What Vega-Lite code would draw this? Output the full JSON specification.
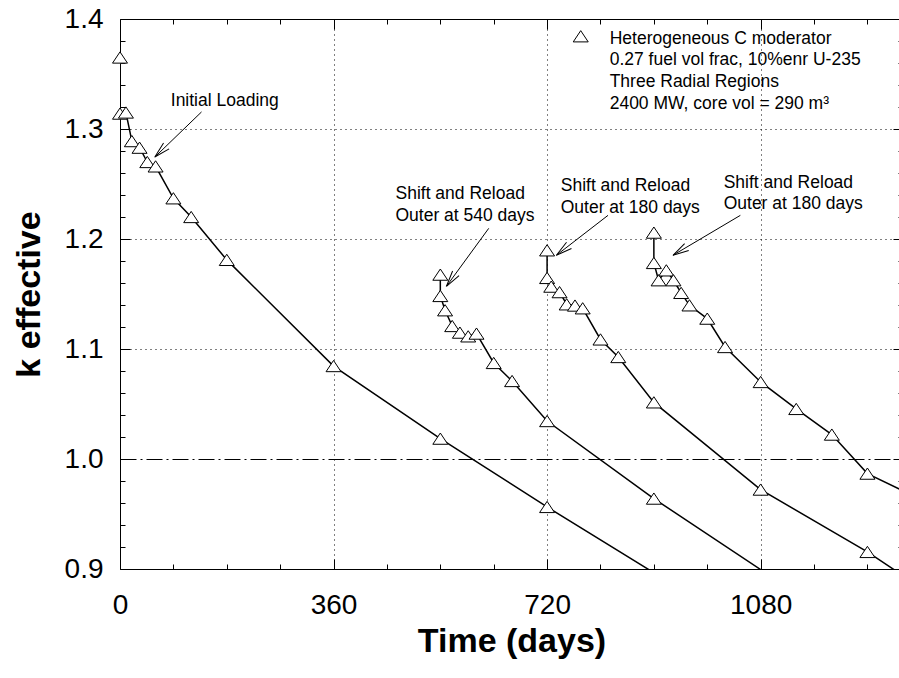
{
  "$schema": "https://vega.github.io/schema/vega-lite/v6.json",
  "width": 783,
  "height": 550,
  "autosize": {"type": "none"},
  "padding": {"left": 120, "top": 19, "right": 0, "bottom": 109},
  "background": "white",
  "config": {"view": {"stroke": null}, "font": "Liberation Sans"},
  "datasets": {
    "curves": [
      {"s": 1, "i": 0, "t": 0, "k": 1.365},
      {"s": 1, "i": 1, "t": 0, "k": 1.314},
      {"s": 1, "i": 2, "t": 10, "k": 1.315},
      {"s": 1, "i": 3, "t": 20, "k": 1.289},
      {"s": 1, "i": 4, "t": 33, "k": 1.283},
      {"s": 1, "i": 5, "t": 46, "k": 1.270},
      {"s": 1, "i": 6, "t": 60, "k": 1.266},
      {"s": 1, "i": 7, "t": 90, "k": 1.237},
      {"s": 1, "i": 8, "t": 120, "k": 1.220},
      {"s": 1, "i": 9, "t": 180, "k": 1.181},
      {"s": 1, "i": 10, "t": 360, "k": 1.0845},
      {"s": 1, "i": 11, "t": 540, "k": 1.0185},
      {"s": 1, "i": 12, "t": 720, "k": 0.9564},
      {"s": 1, "i": 13, "t": 900, "k": 0.8966},
      {"s": 2, "i": 0, "t": 540, "k": 1.1676},
      {"s": 2, "i": 1, "t": 540, "k": 1.1482},
      {"s": 2, "i": 2, "t": 548, "k": 1.1352},
      {"s": 2, "i": 3, "t": 560, "k": 1.1209},
      {"s": 2, "i": 4, "t": 573, "k": 1.1149},
      {"s": 2, "i": 5, "t": 587, "k": 1.1115},
      {"s": 2, "i": 6, "t": 601, "k": 1.114},
      {"s": 2, "i": 7, "t": 630, "k": 1.0873},
      {"s": 2, "i": 8, "t": 661, "k": 1.0709},
      {"s": 2, "i": 9, "t": 720, "k": 1.0345},
      {"s": 2, "i": 10, "t": 900, "k": 0.964},
      {"s": 2, "i": 11, "t": 1080, "k": 0.8995},
      {"s": 3, "i": 0, "t": 720, "k": 1.1897},
      {"s": 3, "i": 1, "t": 720, "k": 1.1646},
      {"s": 3, "i": 2, "t": 727, "k": 1.1567},
      {"s": 3, "i": 3, "t": 741, "k": 1.1517},
      {"s": 3, "i": 4, "t": 753, "k": 1.1406},
      {"s": 3, "i": 5, "t": 767, "k": 1.1395},
      {"s": 3, "i": 6, "t": 780, "k": 1.137},
      {"s": 3, "i": 7, "t": 810, "k": 1.1087},
      {"s": 3, "i": 8, "t": 840, "k": 1.0927},
      {"s": 3, "i": 9, "t": 900, "k": 1.0515},
      {"s": 3, "i": 10, "t": 1080, "k": 0.9722},
      {"s": 3, "i": 11, "t": 1260, "k": 0.9155},
      {"s": 3, "i": 12, "t": 1440, "k": 0.851},
      {"s": 4, "i": 0, "t": 900, "k": 1.2058},
      {"s": 4, "i": 1, "t": 900, "k": 1.1782},
      {"s": 4, "i": 2, "t": 908, "k": 1.1625},
      {"s": 4, "i": 3, "t": 921, "k": 1.1715},
      {"s": 4, "i": 4, "t": 933, "k": 1.1625},
      {"s": 4, "i": 5, "t": 946, "k": 1.151},
      {"s": 4, "i": 6, "t": 960, "k": 1.1397},
      {"s": 4, "i": 7, "t": 990, "k": 1.1276},
      {"s": 4, "i": 8, "t": 1020, "k": 1.1018},
      {"s": 4, "i": 9, "t": 1080, "k": 1.07},
      {"s": 4, "i": 10, "t": 1140, "k": 1.0455},
      {"s": 4, "i": 11, "t": 1200, "k": 1.0222},
      {"s": 4, "i": 12, "t": 1260, "k": 0.9867},
      {"s": 4, "i": 13, "t": 1440, "k": 0.94}
    ],
    "arrows": [
      {"name": "a1", "t": 137.4, "k": 1.3155, "t2": 58.7, "k2": 1.2745},
      {"name": "a2", "t": 621.6, "k": 1.2097, "t2": 550.3, "k2": 1.157},
      {"name": "a3", "t": 822.7, "k": 1.2215, "t2": 735.7, "k2": 1.1852},
      {"name": "a4", "t": 1045.8, "k": 1.2215, "t2": 932.2, "k2": 1.1852}
    ],
    "notes": [
      {"t": 85.6, "k": 1.3205, "text": "Initial Loading"},
      {"t": 464.4, "k": 1.2362, "text": "Shift and Reload\nOuter at 540 days"},
      {"t": 743, "k": 1.2438, "text": "Shift and Reload\nOuter at 180 days"},
      {"t": 1017.7, "k": 1.2468, "text": "Shift and Reload\nOuter at 180 days"},
      {"t": 825.5, "k": 1.3777, "text": "Heterogeneous C moderator\n0.27 fuel vol frac, 10%enr U-235\nThree Radial Regions\n2400 MW, core vol = 290 m³"}
    ],
    "legendSymbol": [
      {"t": 776.7, "k": 1.3843}
    ]
  },
  "layer": [
    {
      "data": {"name": "curves"},
      "mark": {"type": "line", "color": "black", "strokeWidth": 1.5, "clip": true},
      "encoding": {
        "x": {
          "field": "t", "type": "quantitative",
          "scale": {"domain": [0, 1320], "nice": false, "zero": false},
          "axis": {
            "orient": "bottom",
            "values": [0, 90, 180, 270, 360, 450, 540, 630, 720, 810, 900, 990, 1080, 1170, 1260],
            "labelExpr": "datum.value % 360 === 0 ? format(datum.value, 'd') : ''",
            "title": "Time (days)",
            "domain": true, "domainColor": "black", "domainWidth": 1,
            "ticks": true, "tickColor": "black", "tickWidth": 1,
            "tickSize": {"condition": {"test": "datum.value % 360 === 0", "value": -10}, "value": -5},
            "grid": true, "gridColor": "black", "gridWidth": 1, "gridDash": [1, 4],
            "gridOpacity": {"condition": {"test": "datum.value % 360 === 0 && datum.value > 0", "value": 1}, "value": 0},
            "labelFont": "Liberation Sans", "labelFontSize": 28, "labelColor": "black",
            "labelPadding": 32, "labelFlush": false, "labelOverlap": false, "labelBound": false,
            "titleFont": "Liberation Sans", "titleFontSize": 34, "titleFontWeight": "bold", "titleColor": "black",
            "titlePadding": 0
          }
        },
        "y": {
          "field": "k", "type": "quantitative",
          "scale": {"domain": [0.9, 1.4], "nice": false, "zero": false},
          "axis": {
            "orient": "left",
            "values": [0.9, 0.92, 0.94, 0.96, 0.98, 1.0, 1.02, 1.04, 1.06, 1.08, 1.1, 1.12, 1.14, 1.16, 1.18, 1.2, 1.22, 1.24, 1.26, 1.28, 1.3, 1.32, 1.34, 1.36, 1.38, 1.4],
            "labelExpr": "abs(datum.value * 10 - round(datum.value * 10)) < 0.001 ? format(datum.value, '.1f') : ''",
            "title": "k effective",
            "domain": true, "domainColor": "black", "domainWidth": 1,
            "ticks": true, "tickColor": "black", "tickWidth": 1,
            "tickSize": {"condition": {"test": "abs(datum.value * 10 - round(datum.value * 10)) < 0.001", "value": -10}, "value": -5},
            "grid": true, "gridColor": "black", "gridWidth": 1,
            "gridDash": {"condition": {"test": "abs(datum.value - 1) < 0.001", "value": [16, 4, 2, 4]}, "value": [1, 4]},
            "gridOpacity": {"condition": {"test": "abs(datum.value * 10 - round(datum.value * 10)) < 0.001 && datum.value > 0.95 && datum.value < 1.35", "value": 1}, "value": 0},
            "labelFont": "Liberation Sans", "labelFontSize": 28, "labelColor": "black",
            "labelPadding": 27, "labelFlush": false, "labelOverlap": false, "labelBound": false,
            "titleFont": "Liberation Sans", "titleFontSize": 34, "titleFontWeight": "bold", "titleColor": "black",
            "titlePadding": 18
          }
        },
        "detail": {"field": "s", "type": "nominal"},
        "order": {"field": "i", "type": "quantitative"}
      }
    },
    {
      "data": {"name": "curves"},
      "transform": [{"filter": "datum.k >= 0.9 && datum.t <= 1320"}],
      "mark": {"type": "point", "shape": "M0,-0.75L1,0.75L-1,0.75Z", "size": 225, "filled": true, "fill": "white", "stroke": "black", "strokeWidth": 1, "opacity": 1, "fillOpacity": 1, "strokeOpacity": 1},
      "encoding": {
        "x": {
          "field": "t", "type": "quantitative",
          "axis": {
            "orient": "top",
            "values": [0, 90, 180, 270, 360, 450, 540, 630, 720, 810, 900, 990, 1080, 1170, 1260],
            "labels": false, "title": null, "grid": false,
            "domain": true, "domainColor": "black", "domainWidth": 1,
            "ticks": true, "tickColor": "black", "tickWidth": 1,
            "tickSize": {"condition": {"test": "datum.value % 360 === 0", "value": -10}, "value": -5}
          }
        },
        "y": {
          "field": "k", "type": "quantitative",
          "axis": {
            "orient": "right",
            "values": [0.9, 0.92, 0.94, 0.96, 0.98, 1.0, 1.02, 1.04, 1.06, 1.08, 1.1, 1.12, 1.14, 1.16, 1.18, 1.2, 1.22, 1.24, 1.26, 1.28, 1.3, 1.32, 1.34, 1.36, 1.38, 1.4],
            "labels": false, "title": null, "grid": false,
            "domain": true, "domainColor": "black", "domainWidth": 1,
            "ticks": true, "tickColor": "black", "tickWidth": 1,
            "tickSize": {"condition": {"test": "abs(datum.value * 10 - round(datum.value * 10)) < 0.001", "value": -10}, "value": -5}
          }
        }
      }
    },
    {
      "data": {"name": "arrows"},
      "mark": {"type": "rule", "color": "black", "strokeWidth": 1},
      "encoding": {
        "x": {"field": "t", "type": "quantitative", "axis": null},
        "y": {"field": "k", "type": "quantitative", "axis": null},
        "x2": {"field": "t2"},
        "y2": {"field": "k2"}
      }
    },
    {
      "data": {"name": "arrows"},
      "transform": [{"filter": "datum.name === 'a1'"}],
      "mark": {"type": "point", "shape": "M-1,-0.25L0,0L-1,0.25", "size": 1024, "filled": false, "stroke": "black", "strokeWidth": 1, "opacity": 1, "angle": 136},
      "encoding": {
        "x": {"field": "t2", "type": "quantitative", "axis": null},
        "y": {"field": "k2", "type": "quantitative", "axis": null}
      }
    },
    {
      "data": {"name": "arrows"},
      "transform": [{"filter": "datum.name === 'a2'"}],
      "mark": {"type": "point", "shape": "M-1,-0.25L0,0L-1,0.25", "size": 1024, "filled": false, "stroke": "black", "strokeWidth": 1, "opacity": 1, "angle": 126},
      "encoding": {
        "x": {"field": "t2", "type": "quantitative", "axis": null},
        "y": {"field": "k2", "type": "quantitative", "axis": null}
      }
    },
    {
      "data": {"name": "arrows"},
      "transform": [{"filter": "datum.name === 'a3'"}],
      "mark": {"type": "point", "shape": "M-1,-0.25L0,0L-1,0.25", "size": 1024, "filled": false, "stroke": "black", "strokeWidth": 1, "opacity": 1, "angle": 142},
      "encoding": {
        "x": {"field": "t2", "type": "quantitative", "axis": null},
        "y": {"field": "k2", "type": "quantitative", "axis": null}
      }
    },
    {
      "data": {"name": "arrows"},
      "transform": [{"filter": "datum.name === 'a4'"}],
      "mark": {"type": "point", "shape": "M-1,-0.25L0,0L-1,0.25", "size": 1024, "filled": false, "stroke": "black", "strokeWidth": 1, "opacity": 1, "angle": 149},
      "encoding": {
        "x": {"field": "t2", "type": "quantitative", "axis": null},
        "y": {"field": "k2", "type": "quantitative", "axis": null}
      }
    },
    {
      "data": {"name": "notes"},
      "mark": {"type": "text", "align": "left", "baseline": "alphabetic", "font": "Liberation Sans", "fontSize": 17.5, "color": "black", "lineBreak": "\n", "lineHeight": 21.8},
      "encoding": {
        "x": {"field": "t", "type": "quantitative", "axis": null},
        "y": {"field": "k", "type": "quantitative", "axis": null},
        "text": {"field": "text", "type": "nominal"}
      }
    },
    {
      "data": {"name": "legendSymbol"},
      "mark": {"type": "point", "shape": "M0,-0.75L1,0.75L-1,0.75Z", "size": 225, "filled": true, "fill": "white", "stroke": "black", "strokeWidth": 1, "opacity": 1},
      "encoding": {
        "x": {"field": "t", "type": "quantitative", "axis": null},
        "y": {"field": "k", "type": "quantitative", "axis": null}
      }
    }
  ],
  "resolve": {"axis": {"x": "independent", "y": "independent"}}
}
